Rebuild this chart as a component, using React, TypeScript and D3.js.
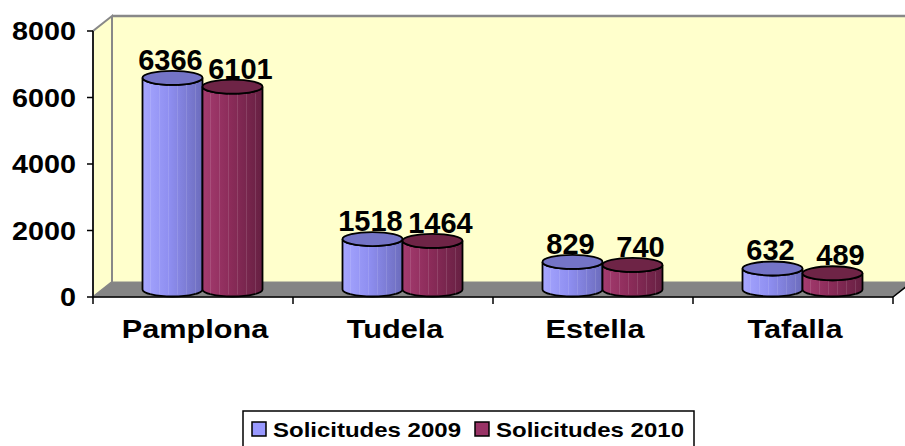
import React from "react";
import * as d3 from "d3";

// datos del gráfico
const categories = ["Pamplona", "Tudela", "Estella", "Tafalla"];
const seriesNames = ["Solicitudes 2009", "Solicitudes 2010"];
const values2009 = [6366, 1518, 829, 632];
const values2010 = [6101, 1464, 740, 489];
const yTicks = [0, 2000, 4000, 6000, 8000];

const W = 905;
const H = 446;
const font = "'Liberation Sans', Arial, sans-serif";

// colores de las series
const sideStops = [
  ["#a6a6ff", "#8e8ef0", "#6c6cbc"],
  ["#a53c70", "#8c2c5a", "#662042"],
];
const topColors = ["#7474c6", "#6e2446"];
const swatchColors = ["#9999ff", "#993366"];

const App = () => {
  const left = 93;
  const right = 893;
  const depthX = 19;
  const depthY = -15;

  const y = d3.scaleLinear().domain([0, 8000]).range([297, 31]);
  const x = d3.scaleBand().domain(categories).range([left, right]).paddingInner(0.4).paddingOuter(0.2);
  const xs = d3.scaleBand().domain(seriesNames).range([0, x.bandwidth()]);
  const step = x.step();
  const series = [values2009, values2010];

  const rx = xs.bandwidth() / 2;
  const ry = 7;
  const midX = depthX / 2;
  const midY = depthY / 2;

  const y0 = y(0);
  const backTop = y(8000) + depthY;

  const cylinder = (cx, topY, baseY) =>
    `M${cx - rx},${topY} L${cx - rx},${baseY} A${rx},${ry} 0 0 0 ${cx + rx},${baseY} ` +
    `L${cx + rx},${topY} A${rx},${ry} 0 0 1 ${cx - rx},${topY} Z`;

  const boundaries = d3.range(categories.length + 1).map((i) => left + i * step);

  return (
    <svg width={W} height={H} style={{ position: "absolute", left: 0, top: 0, background: "#fff" }}>
      <defs>
        {sideStops.map((st, i) => (
          <linearGradient key={i} id={`side${i}`} x1="0" x2="1" y1="0" y2="0">
            <stop offset="0" stopColor={st[0]} />
            <stop offset="0.45" stopColor={st[1]} />
            <stop offset="1" stopColor={st[2]} />
          </linearGradient>
        ))}
      </defs>

      {/* pared del fondo */}
      <rect x={left + depthX} y={backTop} width={right - left + 10} height={y0 - y(8000)} fill="#ffffcc" />
      <line x1={left + depthX} x2={W} y1={backTop} y2={backTop} stroke="#888" strokeWidth={2.5} />
      {/* pared lateral */}
      <polygon
        points={`${left},${y0} ${left},${y(8000)} ${left + depthX},${backTop} ${left + depthX},${y0 + depthY}`}
        fill="#ffffcc"
        stroke="#888"
        strokeWidth={2}
      />
      {/* suelo */}
      <polygon
        points={`${left},${y0} ${right},${y0} ${right + depthX},${y0 + depthY} ${left + depthX},${y0 + depthY}`}
        fill="#858585"
        stroke="#888"
        strokeWidth={1}
      />
      <line x1={right} y1={y0} x2={right + depthX} y2={y0 + depthY} stroke="#000" strokeWidth={1.5} />

      {/* cilindros */}
      {categories.map((c, ci) =>
        seriesNames.map((s, si) => {
          const v = series[si][ci];
          const cx = x(c) + xs(s) + rx + midX;
          const baseY = y0 + midY;
          const topY = y(v) + midY;
          return (
            <g key={c + s}>
              <path d={cylinder(cx, topY, baseY)} fill={`url(#side${si})`} stroke="#000" strokeWidth={1.8} />
              {d3.range(6).map((k) => (
                <line
                  key={k}
                  x1={cx - rx + 8 + k * 9}
                  x2={cx - rx + 8 + k * 9}
                  y1={topY + ry}
                  y2={baseY + ry - 2}
                  stroke="#fff"
                  strokeOpacity={0.12}
                  strokeWidth={1}
                />
              ))}
              <ellipse cx={cx} cy={topY} rx={rx} ry={ry} fill={topColors[si]} stroke="#000" strokeWidth={1.8} />
            </g>
          );
        })
      )}

      {/* etiquetas de datos */}
      {categories.map((c, ci) =>
        seriesNames.map((s, si) => {
          const v = series[si][ci];
          const cx = x(c) + xs(s) + rx + midX + (si === 1 ? 8 : -2);
          return (
            <text
              key={"l" + c + s}
              x={cx}
              y={y(v) + midY - ry - 1}
              textAnchor="middle"
              fontFamily={font}
              fontWeight="bold"
              fontSize={29}
              fill="#000"
            >
              {v}
            </text>
          );
        })
      )}

      {/* eje y */}
      <line x1={left} x2={left} y1={y(8000)} y2={y0} stroke="#000" strokeWidth={1.5} />
      {yTicks.map((t) => (
        <g key={t}>
          <line x1={left - 6} x2={left} y1={y(t)} y2={y(t)} stroke="#000" strokeWidth={1.5} />
          <text
            transform={`translate(${left - 17},${y(t) + 9}) scale(1.15,1)`}
            textAnchor="end"
            fontFamily={font}
            fontWeight="bold"
            fontSize={25}
          >
            {t}
          </text>
        </g>
      ))}

      {/* eje x */}
      <line x1={left} x2={right} y1={y0} y2={y0} stroke="#000" strokeWidth={1.5} />
      {boundaries.map((b, i) => (
        <line key={i} x1={b} x2={b} y1={y0} y2={y0 + 7} stroke="#000" strokeWidth={1.5} />
      ))}
      {categories.map((c) => (
        <text
          key={c}
          transform={`translate(${x(c) + x.bandwidth() / 2 + 2},338) scale(1.18,1)`}
          textAnchor="middle"
          fontFamily={font}
          fontWeight="bold"
          fontSize={26}
        >
          {c}
        </text>
      ))}

      {/* leyenda */}
      <rect x={243} y={411} width={451} height={45} fill="#fff" stroke="#000" strokeWidth={1.5} />
      {seriesNames.map((s, i) => {
        const lx = [252, 475][i];
        return (
          <g key={s}>
            <rect x={lx} y={422} width={14} height={14} fill={swatchColors[i]} stroke="#000" strokeWidth={1.5} />
            <text
              transform={`translate(${lx + 21},437) scale(1.2,1)`}
              fontFamily={font}
              fontWeight="bold"
              fontSize={20}
            >
              {s}
            </text>
          </g>
        );
      })}
    </svg>
  );
};

export default App;
